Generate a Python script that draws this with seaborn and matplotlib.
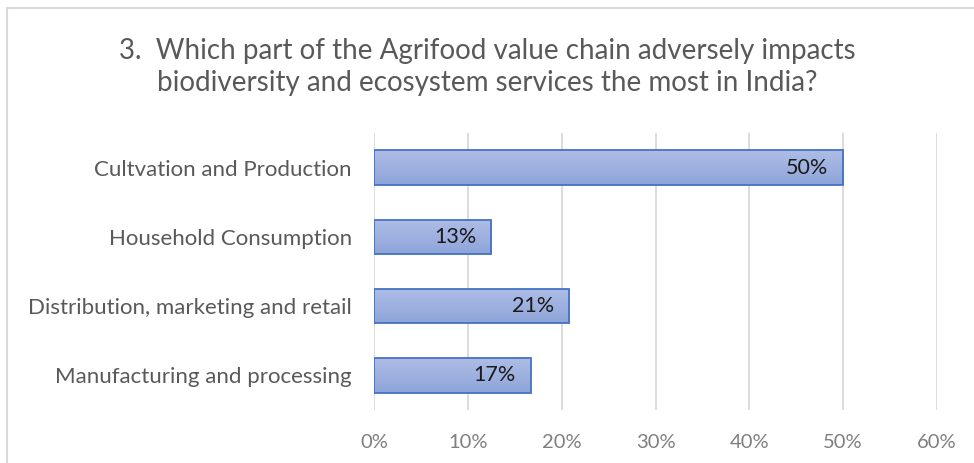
"""
Survey chart: which part of the Agrifood value chain hurts biodiversity most
"""
import numpy as np
import pandas as pd
import matplotlib
matplotlib.use("Agg")
import matplotlib.pyplot as plt
from matplotlib.colors import LinearSegmentedColormap
import seaborn as sns

categories = ["Cultvation and Production", "Household Consumption",
              "Distribution, marketing and retail", "Manufacturing and processing"]
shares = [50.0, 12.5, 20.8, 16.7]
labels = ["50%", "13%", "21%", "17%"]
xticks = [0, 10, 20, 30, 40, 50, 60]

TITLE = "3.  Which part of the Agrifood value chain adversely impacts\nbiodiversity and ecosystem services the most in India?"

sns.set_theme(style="white")
plt.rcParams["font.family"] = ["Lato", "DejaVu Sans"]

df = pd.DataFrame({"category": categories, "share": shares})

fig = plt.figure(figsize=(9.74, 4.63), dpi=100)
ax = fig.add_axes([374 / 974, 1 - 410 / 463, (937 - 374) / 974, (410 - 133) / 463])

sns.barplot(data=df, x="share", y="category", orient="h", ax=ax,
            width=0.5, color="#9fb1e0", edgecolor="#4472c4", linewidth=1.3, zorder=3)

# vertical gradient inside each bar, light on top, darker at the bottom
grad_cmap = LinearSegmentedColormap.from_list("bar", ["#aebde6", "#8ea4d9"])
grad = np.linspace(0, 1, 64).reshape(-1, 1)
for bar in ax.patches:
    x0, y0 = bar.get_x(), bar.get_y()
    w, h = bar.get_width(), bar.get_height()
    im = ax.imshow(grad, cmap=grad_cmap, aspect="auto", zorder=3.5,
                   extent=(x0, x0 + w, y0 + h, y0), origin="upper")
    im.set_clip_path(bar)
    bar.set_facecolor("none")
    bar.set_zorder(4)

for i, (val, lab) in enumerate(zip(shares, labels)):
    ax.text(val - 1.6, i, lab, ha="right", va="center", fontsize=15.5,
            color="#1a1a1a", zorder=5)

ax.set_xlim(0, 60)
ax.set_ylim(3.5, -0.5)
ax.set_xticks(xticks)
ax.set_xticklabels([f"{t}%" for t in xticks], fontsize=14.5, color="#7f7f7f")
ax.tick_params(axis="x", length=0, pad=17)
ax.tick_params(axis="y", length=0, pad=16, labelsize=16, labelcolor="#595959")
ax.set_xlabel("")
ax.set_ylabel("")
ax.grid(axis="x", color="#d9d9d9", linewidth=1.3, zorder=0)
ax.grid(axis="y", visible=False)
for side in ax.spines:
    ax.spines[side].set_visible(False)

fig.text(0.5, 1 - 67 / 463, TITLE, ha="center", va="center", fontsize=20,
         color="#595959", linespacing=1.3)

# chart frame (left and top edges visible in the original crop)
fig.add_artist(plt.Line2D([7 / 974, 7 / 974], [0, 1 - 8 / 463],
                          transform=fig.transFigure, color="#d9d9d9", linewidth=1.5))
fig.add_artist(plt.Line2D([7 / 974, 1], [1 - 8 / 463, 1 - 8 / 463],
                          transform=fig.transFigure, color="#d9d9d9", linewidth=1.5))

fig.savefig("out.png", dpi=100, facecolor="white")
